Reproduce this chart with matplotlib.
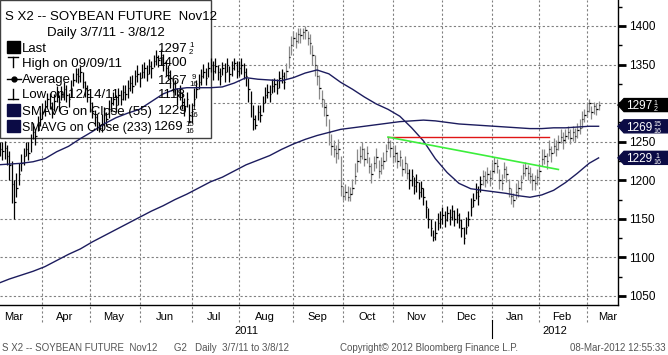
import numpy as np
import pandas as pd
import matplotlib
matplotlib.use('Agg')
import matplotlib.pyplot as plt
from matplotlib.patches import Rectangle, Polygon
from matplotlib.transforms import blended_transform_factory

plt.rcParams['font.family'] = ['Liberation Sans', 'DejaVu Sans']

# ---- data -------------------------------------------------------------
holidays = ['2011-04-22', '2011-05-30', '2011-07-04', '2011-09-05', '2011-11-24',
            '2011-12-26', '2012-01-02', '2012-01-16', '2012-02-20']

# daily closes, one row per month (Mar 11 .. Mar 12)
close = [
    1243, 1240, 1238, 1242, 1232, 1220, 1195, 1172, 1190, 1208, 1222, 1232, 1240, 1236, 1250, 1262, 1258, 1272, 1280,
    1288, 1295, 1305, 1300, 1292, 1303, 1310, 1302, 1312, 1318, 1310, 1305, 1320, 1330, 1338, 1335, 1340, 1328, 1320, 1312,
    1300, 1290, 1282, 1275, 1268, 1272, 1285, 1280, 1292, 1300, 1305, 1298, 1310, 1306, 1315, 1312, 1320, 1326, 1322, 1335, 1338,
    1332, 1340, 1345, 1338, 1348, 1345, 1355, 1360, 1356, 1362, 1352, 1346, 1340, 1332, 1325, 1318, 1310, 1315, 1302, 1296, 1305, 1285,
    1290, 1305, 1318, 1328, 1335, 1340, 1332, 1345, 1350, 1342, 1348, 1340, 1335, 1345, 1340, 1350, 1338, 1346, 1352, 1342,
    1345, 1350, 1340, 1335, 1318, 1300, 1280, 1272, 1288, 1285, 1300, 1310, 1315, 1312, 1322, 1325, 1320, 1332, 1335, 1328, 1342, 1360, 1375,
    1385, 1380, 1390, 1388, 1392, 1395, 1385, 1378, 1362, 1350, 1335, 1320, 1305, 1295, 1285, 1262, 1245, 1240, 1236, 1240, 1192,
    1180, 1185, 1178, 1182, 1190, 1205, 1225, 1232, 1240, 1228, 1235, 1218, 1208, 1222, 1230, 1212, 1220, 1225, 1238, 1250, 1242,
    1232, 1236, 1225, 1230, 1215, 1222, 1210, 1200, 1205, 1192, 1198, 1185, 1190, 1178, 1165, 1150, 1138, 1126, 1132, 1145, 1150,
    1155, 1148, 1158, 1152, 1160, 1150, 1155, 1148, 1138, 1125, 1140, 1150, 1165, 1175, 1185, 1180, 1195, 1205, 1200, 1208, 1203,
    1212, 1222, 1218, 1200, 1196, 1215, 1208, 1190, 1180, 1175, 1185, 1190, 1198, 1210, 1216, 1210, 1205, 1200, 1196, 1204,
    1212, 1228, 1232, 1225, 1240, 1236, 1245, 1240, 1250, 1256, 1252, 1258, 1262, 1255, 1262, 1258, 1265, 1268, 1280, 1285,
    1290, 1300, 1288, 1296, 1292, 1297.5,
]
# high above close
up = [
    8, 10, 12, 9, 14, 18, 30, 28, 20, 15, 12, 10, 9, 14, 10, 12, 9, 11, 8,
    12, 9, 8, 13, 10, 9, 12, 8, 10, 9, 14, 8, 10, 9, 7, 10, 8, 12, 9, 11,
    10, 12, 9, 11, 8, 14, 10, 9, 12, 8, 10, 13, 9, 11, 8, 12, 10, 9, 14, 8, 11,
    9, 11, 8, 12, 9, 10, 8, 9, 7, 8, 12, 10, 9, 11, 8, 12, 10, 9, 13, 11, 9, 14,
    10, 14, 12, 10, 9, 11, 13, 8, 9, 12, 10, 9, 11, 8, 12, 9, 10, 8, 7, 12,
    9, 8, 12, 10, 14, 16, 18, 12, 10, 12, 9, 11, 10, 12, 9, 8, 11, 10, 9, 12, 10, 14, 12,
    8, 12, 7, 9, 6, 5, 8, 12, 14, 12, 15, 16, 12, 10, 14, 18, 15, 12, 10, 14, 40,
    12, 10, 14, 9, 12, 18, 15, 12, 10, 14, 9, 12, 15, 10, 12, 14, 10, 12, 9, 6, 10,
    14, 10, 12, 9, 13, 10, 12, 14, 9, 12, 10, 13, 9, 12, 10, 14, 12, 10, 15, 12, 10,
    10, 12, 9, 11, 8, 12, 9, 10, 12, 14, 12, 10, 12, 9, 11, 12, 10, 8, 12, 9, 10,
    12, 8, 10, 14, 12, 9, 11, 12, 10, 9, 12, 10, 9, 11, 8, 10, 12, 9, 11, 10,
    10, 12, 8, 11, 12, 9, 10, 12, 9, 11, 10, 8, 9, 12, 8, 10, 9, 12, 10, 8,
    10, 5, 8, 6, 8, 5,
]
# low below close
dn = [
    10, 8, 12, 14, 12, 20, 25, 22, 12, 14, 10, 12, 8, 10, 13, 9, 12, 8, 10,
    9, 12, 10, 8, 11, 13, 9, 12, 8, 14, 9, 10, 12, 8, 11, 9, 13, 8, 12, 10,
    12, 9, 11, 10, 6, 10, 13, 9, 11, 12, 8, 10, 12, 9, 11, 8, 13, 10, 9, 12, 10,
    11, 8, 12, 9, 10, 13, 8, 11, 9, 12, 10, 11, 9, 12, 10, 8, 12, 11, 9, 13, 10, 11,
    16, 9, 11, 10, 12, 8, 9, 11, 10, 12, 9, 10, 11, 8, 12, 9, 10, 11, 9, 10,
    10, 12, 9, 13, 16, 18, 15, 6, 10, 9, 12, 10, 8, 11, 9, 10, 8, 12, 9, 10, 11, 15, 12,
    10, 8, 12, 10, 9, 12, 10, 14, 12, 15, 12, 14, 10, 12, 15, 16, 12, 10, 14, 12, 12,
    6, 10, 5, 9, 8, 10, 14, 9, 12, 10, 13, 9, 12, 10, 14, 9, 12, 10, 13, 10, 12,
    10, 12, 9, 11, 10, 12, 9, 11, 12, 10, 13, 9, 12, 10, 14, 12, 10, 5, 10, 9, 12,
    12, 9, 11, 10, 12, 9, 11, 10, 12, 7, 10, 9, 11, 10, 9, 12, 10, 11, 9, 12, 10,
    10, 12, 9, 11, 9, 12, 10, 12, 11, 10, 9, 12, 10, 9, 11, 10, 9, 12, 8, 10,
    12, 9, 11, 10, 9, 12, 10, 9, 11, 8, 12, 10, 9, 8, 11, 9, 10, 8, 12, 10,
    8, 12, 9, 10, 8, 7,
]

# moving averages read every 5th bar
ma_bar = list(range(0, 255, 5)) + [254]
sma55 = [1220, 1221, 1222, 1224, 1228, 1237, 1244, 1254, 1263, 1273,
         1281, 1287, 1292, 1302, 1312, 1318, 1320, 1320, 1320, 1321,
         1326, 1333, 1331, 1330, 1329, 1333, 1339, 1343, 1338, 1327,
         1318, 1308, 1299, 1292, 1283, 1268, 1251, 1228, 1210, 1196,
         1189, 1187, 1185, 1183, 1180, 1178, 1181, 1187, 1197, 1209,
         1222, 1229]
sma233 = [1066, 1072, 1077, 1082, 1088, 1096, 1104, 1111, 1120, 1128,
          1136, 1144, 1152, 1160, 1167, 1175, 1182, 1190, 1198, 1204,
          1212, 1220, 1226, 1232, 1240, 1247, 1253, 1258, 1262, 1266,
          1268, 1270, 1272, 1274, 1276, 1277, 1278, 1277, 1275, 1273,
          1272, 1271, 1270, 1269, 1268, 1267, 1267, 1268, 1268, 1269,
          1270, 1270]

# drawn trend lines (date, value)
red_line = [('2011-10-28', 1256), ('2012-02-07', 1256)]
green_line = [('2011-10-28', 1256), ('2012-02-13', 1214)]

gray_spans = [('2011-08-29', '2011-11-09'), ('2011-12-27', '2012-03-08')]

# right-hand value tags: (price, whole, numerator, denominator, colour)
tags = [(1297.5, '1297', '1', '2', 'black'),
        (1269.9375, '1269', '15', '16', '#0b0b45'),
        (1229.0625, '1229', '1', '16', '#0b0b45')]

# legend rows: label, whole, numerator, denominator
legend_rows = [('Last', '1297', '1', '2'),
               ('High on 09/09/11', '1400', '', ''),
               ('Average', '1267', '9', '16'),
               ('Low on 12/14/11', '1118', '', ''),
               ('SMAVG on Close (55)', '1229', '1', '16'),
               ('SMAVG on Close (233)', '1269', '15', '16')]

y_ticks = [1050, 1100, 1150, 1200, 1250, 1300, 1350, 1400]
y_labels = ['1050', '1100', '1150', '1200', '1250', '', '1350', '1400']  # 1300 sits under the Last tag

# ---- dates --------------------------------------------------------------
hol = pd.to_datetime(holidays)
dates = pd.bdate_range('2011-03-07', '2012-03-08')
dates = dates[~dates.isin(hol)]
n = len(dates)
x = np.arange(n)

cal = pd.bdate_range('2011-03-01', '2012-03-30')
cal = cal[~cal.isin(hol)]
cal_pos = np.arange(len(cal)) - cal.get_loc(pd.Timestamp('2011-03-07'))
cal_month = cal.to_period('M')

def bar_of(d):
    return dates.get_loc(pd.Timestamp(d))

close = np.array(close, dtype=float)
high = close + np.array(up)
low = close - np.array(dn)

XMIN, XMAX = 1.04, 262.2
YMIN, YMAX = 1038.3, 1433.7

fig = plt.figure(figsize=(6.68, 3.55), dpi=100)
ax = fig.add_axes([0, 50 / 355, 618 / 668, 305 / 355])
ax.set_xlim(XMIN, XMAX)
ax.set_ylim(YMIN, YMAX)

W, H = 618.0, 305.0
def px(xp, yp):
    return xp / W, 1 - yp / H

bt = blended_transform_factory(ax.transData, ax.transAxes)
bt_y = blended_transform_factory(ax.transAxes, ax.transData)

def frac_text(xx, yy, whole, num, den, fs, color, transform, z):
    # whole number plus a small stacked fraction, Bloomberg style
    t = ax.text(xx, yy, whole, transform=transform, fontsize=fs, color=color,
                ha='left', va='baseline', zorder=z, clip_on=False)
    if num:
        ax.annotate(num + '\n' + den, xy=(1, 0.45), xycoords=t, xytext=(1, 0),
                    textcoords='offset points', ha='left', va='center',
                    multialignment='center', linespacing=0.85,
                    fontsize=fs * 0.6, color=color, zorder=z)
    return t

# grid
ax.set_yticks(y_ticks)
ax.set_yticklabels(y_labels)
ax.set_yticks(range(1050, 1426, 25), minor=True)
ax.grid(axis='y', which='major', linestyle=(0, (2, 2)), color='#808080', lw=0.8)
ax.set_axisbelow(True)
months = pd.period_range('2011-03', '2012-03', freq='M')
for m in months[1:]:
    first = cal_pos[cal_month == m][0]
    ax.plot([first, first], [-0.056, 1], transform=bt, clip_on=False,
            color='#808080', lw=0.8, ls=(0, (2, 2)), zorder=0.5)

# legend box (under the bars)
bx0, by0 = px(0, 138)
bx1, by1 = px(211, 0)
ax.add_patch(Rectangle((bx0, by0), bx1 - bx0, by1 - by0, transform=ax.transAxes,
                       facecolor='white', edgecolor='#404040', lw=1.0, zorder=1))

# bars
cols = np.array(['black'] * n, dtype=object)
for s, e in gray_spans:
    cols[(dates >= pd.Timestamp(s)) & (dates <= pd.Timestamp(e))] = '#8a8a8a'
ax.vlines(x, low, high, colors=list(cols), lw=0.9, zorder=2)
ax.hlines(close, x, x + 0.6, colors='black', lw=0.9, zorder=2.1)

# moving averages
ax.plot(ma_bar, sma55, color='#1c1c5e', lw=1.0, zorder=3)
ax.plot(ma_bar, sma233, color='#1c1c5e', lw=1.0, zorder=3)

# trend lines
ax.plot([bar_of(d) for d, v in red_line], [v for d, v in red_line], color='#e01515', lw=1.0, zorder=3)
ax.plot([bar_of(d) for d, v in green_line], [v for d, v in green_line], color='#3cee3c', lw=1.2, zorder=3)

# axes look
for s in ['top', 'left']:
    ax.spines[s].set_visible(False)
for s in ['right', 'bottom']:
    ax.spines[s].set_color('black')
    ax.spines[s].set_linewidth(1.0)
ax.set_xticks([])
ax.yaxis.tick_right()
ax.tick_params(axis='y', which='major', direction='out', length=6, width=2, pad=2, labelsize=8.5)
ax.tick_params(axis='y', which='minor', direction='out', length=3, width=1)

# month / year labels
for m in months:
    p = cal_pos[cal_month == m]
    c = min(p.mean(), XMAX - 4.5)
    ax.text(c, -0.038, m.strftime('%b'), transform=bt, ha='center', va='center',
            fontsize=8, clip_on=False)
jan = cal_pos[cal_month == pd.Period('2012-01', 'M')][0]
ax.text((XMIN + jan) / 2, -0.085, '2011', transform=bt, ha='center', va='center', fontsize=8)
ax.text((jan + XMAX) / 2, -0.085, '2012', transform=bt, ha='center', va='center', fontsize=8)
ax.plot([jan, jan], [-(320 - H) / H, -(338 - H) / H], transform=bt, clip_on=False,
        color='black', lw=0.8)

# value tags on the right axis
hh = 6.5 / (H / (YMAX - YMIN))
for v, whole, num, den, c in tags:
    pts = [(1.0, v), (1.0 + 6 / W, v + hh), (668 / W, v + hh), (668 / W, v - hh), (1.0 + 6 / W, v - hh)]
    ax.add_patch(Polygon(pts, closed=True, transform=bt_y, facecolor=c, edgecolor=c,
                         clip_on=False, zorder=10))
    frac_text(1.0 + 8 / W, v - 4.2 / (H / (YMAX - YMIN)), whole, num, den, 8.5, 'white', bt_y, 11)

# legend contents
def ltext(xp, yp, s, fs=9.5, **kw):
    xa, ya = px(xp, yp)
    ax.text(xa, ya, s, transform=ax.transAxes, fontsize=fs, va='baseline', zorder=6, **kw)

ltext(5, 20, 'S X2 -- SOYBEAN FUTURE  Nov12')
ltext(106, 36, 'Daily 3/7/11 - 3/8/12', ha='center')
row_y = [47, 62, 79, 94, 110, 126]
for (name, whole, num, den), yc in zip(legend_rows, row_y):
    long_row = len(name) > 19
    ltext(22, yc + 4.5, name, fs=9.0 if long_row else 9.5)
    frac_text(*px(154 if long_row else 158, yc + 4.5), whole, num, den, 9.5, 'black', ax.transAxes, 6)

def lpath(xs, ys):
    pts = [px(a, b) for a, b in zip(xs, ys)]
    ax.plot([p[0] for p in pts], [p[1] for p in pts], transform=ax.transAxes,
            color='black', lw=1.0, zorder=6)

def lsquare(y0, color):
    xa, ya = px(7, y0 + 12)
    xb, yb = px(20, y0)
    ax.add_patch(Rectangle((xa, ya), xb - xa, yb - ya, transform=ax.transAxes,
                           facecolor=color, edgecolor=color, zorder=6))

lsquare(41, 'black')
lpath([8, 18], [57, 57]); lpath([13, 13], [57, 67])
lpath([7, 21], [79, 79])
ax.plot(*px(14, 79), 'o', color='black', markersize=3.5, transform=ax.transAxes, zorder=6)
lpath([13, 13], [89, 99]); lpath([8, 18], [99, 99])
lsquare(104, '#0b0b45')
lsquare(120, '#0b0b45')

# footer
fig.text(2 / 668, 1 - 348 / 355, 'S X2 -- SOYBEAN FUTURE  Nov12      G2   Daily  3/7/11 to 3/8/12',
         fontsize=7, color='#555555', va='center', ha='left')
fig.text(340 / 668, 1 - 348 / 355, 'Copyright\u00a9 2012 Bloomberg Finance L.P.',
         fontsize=7, color='#555555', va='center', ha='left')
fig.text(666 / 668, 1 - 348 / 355, '08-Mar-2012 12:55:33',
         fontsize=7, color='#555555', va='center', ha='right')

fig.savefig('out.png', dpi=100)
